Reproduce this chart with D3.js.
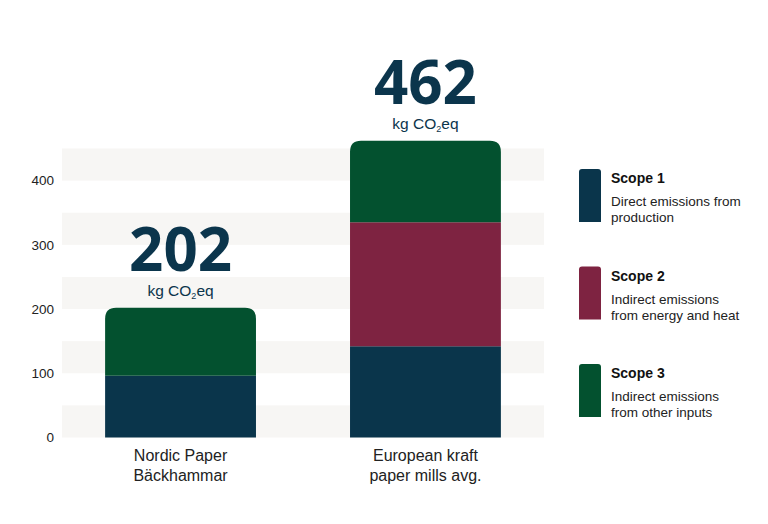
<!DOCTYPE html>
<html>
<head>
<meta charset="utf-8">
<script src="https://cdn.jsdelivr.net/npm/d3@7"></script>
<style>
  body { margin: 0; background: #fff; }
  text { font-family: "Liberation Sans", Arial, sans-serif; }
</style>
</head>
<body>
<svg id="chart"></svg>
<script>
var width = 768;
var height = 524;

// values
var categories = [["Nordic Paper", "Bäckhammar"], ["European kraft", "paper mills avg."]];
var scope1 = [96, 142];
var scope2 = [0, 193];
var scope3 = [106, 127];
var totals = [202, 462];
var yTicks = [0, 100, 200, 300, 400];
var bands = [[0, 50], [100, 150], [200, 250], [300, 350], [400, 450]];

var scopeNames = ["Scope 1", "Scope 2", "Scope 3"];
var scopeText = [
  ["Direct emissions from", "production"],
  ["Indirect emissions", "from energy and heat"],
  ["Indirect emissions", "from other inputs"]
];
var colors = ["#0a354b", "#7e2341", "#03512f"];

var svg = d3.select("#chart")
    .attr("width", width)
    .attr("height", height);

var xScale = d3.scaleBand()
  .domain(d3.range(categories.length))
  .range([62, 544])
  .paddingInner(0.384)
  .paddingOuter(0.176);

var yScale = d3.scaleLinear()
  .domain([0, 450])
  .range([437.5, 148.5]);

// light background stripes
svg.selectAll("rect.band")
  .data(bands)
  .enter()
  .append("rect")
    .attr("class", "band")
    .attr("x", 62)
    .attr("width", 544 - 62)
    .attr("y", d => yScale(d[1]))
    .attr("height", d => yScale(d[0]) - yScale(d[1]))
    .attr("fill", "#f7f6f4");

// y axis labels only
var yAxis = d3.axisLeft(yScale).tickValues(yTicks).tickSize(0).tickPadding(8);
svg.append("g")
    .attr("transform", "translate(62,0)")
    .call(yAxis)
    .call(g => g.select(".domain").remove())
    .selectAll("text")
      .attr("font-size", 13.5)
      .attr("fill", "#222")
      .attr("font-family", "Liberation Sans, Arial, sans-serif");

// stacked bars
var rows = categories.map((c, i) => ({ i: i, s1: scope1[i], s2: scope2[i], s3: scope3[i] }));
var stack = d3.stack().keys(["s1", "s2", "s3"]);
var series = stack(rows);

function segPath(x, w, y0, y1, r) {
  // rectangle with optional rounded top corners
  if (!r) return "M" + x + "," + y1 + "H" + (x + w) + "V" + y0 + "H" + x + "Z";
  return "M" + x + "," + y0 + "V" + (y1 + r) + "Q" + x + "," + y1 + " " + (x + r) + "," + y1 +
    "H" + (x + w - r) + "Q" + (x + w) + "," + y1 + " " + (x + w) + "," + (y1 + r) +
    "V" + y0 + "Z";
}

series.forEach((s, k) => {
  svg.append("g")
    .selectAll("path")
    .data(s.filter(d => d[1] > d[0]))
    .enter()
    .append("path")
      .attr("fill", colors[k])
      .attr("d", d => segPath(xScale(d.data.i), xScale.bandwidth(),
        yScale(d[0]), yScale(d[1]), k === series.length - 1 ? 11 : 0));
});

// total labels
var tot = svg.selectAll("g.total")
  .data(totals)
  .enter()
  .append("g")
    .attr("class", "total")
    .attr("transform", (d, i) => "translate(" + (xScale(i) + xScale.bandwidth() / 2) + "," + yScale(d) + ")");

tot.append("text")
    .attr("y", -37)
    .attr("text-anchor", "middle")
    .attr("font-weight", 700)
    .attr("font-size", 60)
    .attr("fill", "#0b354c")
    .style("font-family", "'Open Sans', sans-serif")
    .text(d => d);

var unit = tot.append("text")
    .attr("y", -12)
    .attr("text-anchor", "middle")
    .attr("font-size", 15.5)
    .attr("fill", "#0b354c");
unit.append("tspan").text("kg CO");
unit.append("tspan").attr("font-size", 9).attr("baseline-shift", "-3").text("2");
unit.append("tspan").text("eq");

// category labels
svg.selectAll("text.cat")
  .data(categories)
  .enter()
  .append("text")
    .attr("class", "cat")
    .attr("text-anchor", "middle")
    .attr("font-size", 16)
    .attr("fill", "#222")
    .attr("x", (d, i) => xScale(i) + xScale.bandwidth() / 2)
    .attr("y", 461)
  .selectAll("tspan")
  .data(d => d)
  .enter()
  .append("tspan")
    .attr("x", function () { return d3.select(this.parentNode).attr("x"); })
    .attr("dy", (d, j) => j === 0 ? 0 : 20)
    .text(d => d);

// legend
var legend = svg.selectAll("g.legend")
  .data(scopeNames)
  .enter()
  .append("g")
    .attr("class", "legend")
    .attr("transform", (d, i) => "translate(579," + (169 + i * 97.5) + ")");

legend.append("path")
    .attr("fill", (d, i) => colors[i])
    .attr("d", segPath(0, 22, 53, 0, 3));

legend.append("text")
    .attr("x", 32)
    .attr("y", 14)
    .attr("font-size", 14)
    .attr("font-weight", "bold")
    .attr("fill", "#111")
    .text(d => d);

legend.append("text")
    .attr("x", 32)
    .attr("y", 37)
    .attr("font-size", 13.5)
    .attr("fill", "#222")
  .selectAll("tspan")
  .data((d, i) => scopeText[i])
  .enter()
  .append("tspan")
    .attr("x", 32)
    .attr("dy", (d, j) => j === 0 ? 0 : 16)
    .text(d => d);
</script>
</body>
</html>
